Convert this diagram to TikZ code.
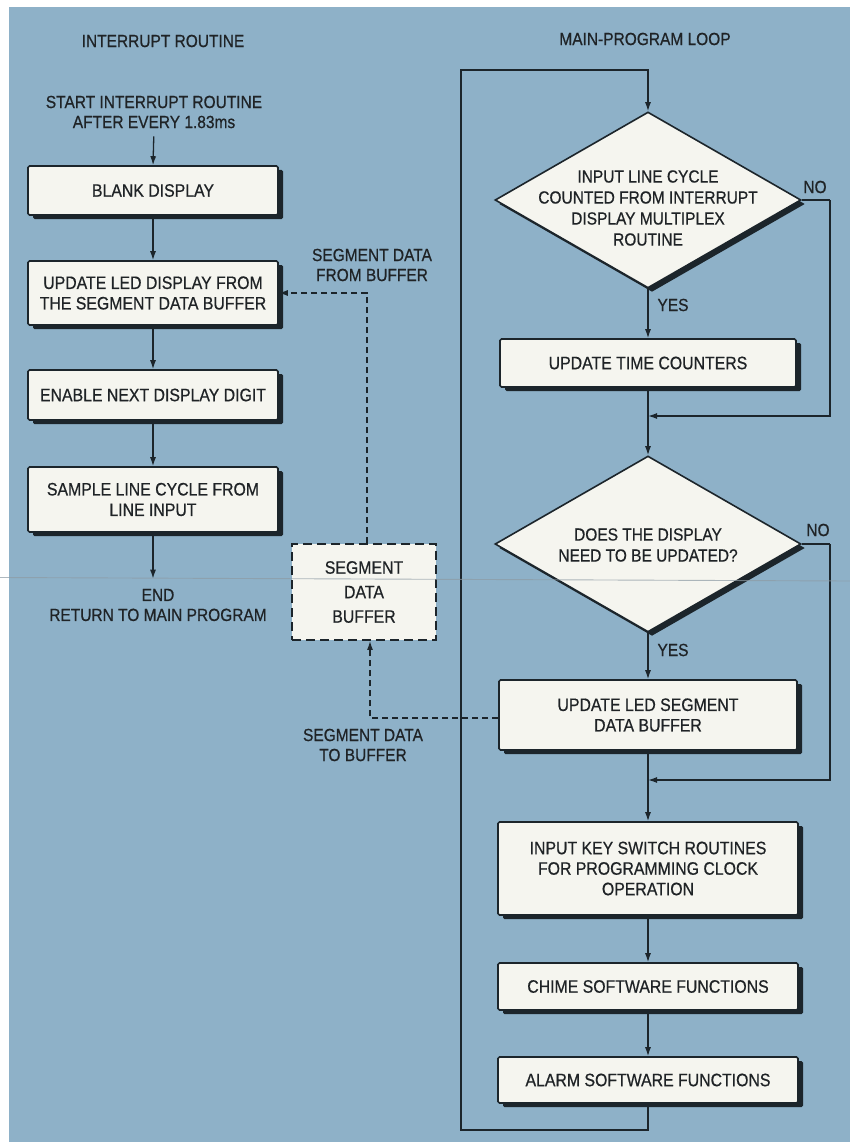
\documentclass[tikz,border=0pt]{standalone}
\usepackage{fontspec}
\setmainfont{Liberation Sans}[FakeStretch=0.88,FakeBold=0.6]
\usetikzlibrary{shapes.geometric,arrows.meta,shadows}
\definecolor{bg}{HTML}{8EB1C8}
\definecolor{ink}{HTML}{1C252B}
\definecolor{txt}{HTML}{1F2326}
\definecolor{paper}{HTML}{F5F5EF}
\definecolor{scan}{HTML}{8D9BA4}
\begin{document}
\begin{tikzpicture}[x=1pt,y=-1pt,
  boxtext/.style={font=\fontsize{18}{20.5}\selectfont, text=txt, align=center},
  procbox/.style={boxtext, rectangle, draw=ink, line width=1.6pt, fill=paper, rounded corners=1.5pt, inner sep=0pt,
    general shadow={fill=ink, shadow xshift=5pt, shadow yshift=-4pt}},
  decision/.style={diamond, draw=ink, line width=1.6pt, fill=paper, inner sep=0pt,
    minimum width=306pt, minimum height=176pt,
    general shadow={fill=ink, shadow xshift=4pt, shadow yshift=-4pt}},
  dtext/.style={font=\fontsize{17.6}{21}\selectfont, text=txt, align=center, inner sep=0pt},
  lbl/.style={font=\fontsize{17.6}{20}\selectfont, text=txt, align=center, inner sep=0pt},
  conn/.style={draw=ink, line width=1.3pt},
  arr/.style={conn, -{Latex[length=9pt,width=6pt]}},
  dasharr/.style={draw=ink, line width=1.3pt, dash pattern=on 6pt off 4pt, -{Latex[length=9pt,width=6pt]}},
  bufbox/.style={rectangle, draw=ink, line width=1.8pt, dash pattern=on 9pt off 5pt, fill=paper,
    minimum width=144pt, minimum height=96pt, inner sep=0pt, align=center,
    font=\fontsize{18}{24.5}\selectfont, text=txt},
]
% page and background
\useasboundingbox (0,0) rectangle (850,1142);
\fill[white] (0,0) rectangle (850,1142);
\fill[bg] (9,7) rectangle (850,1142);

% titles
\node[lbl] (ttlL) at (163,41) {INTERRUPT ROUTINE};
\node[lbl] (ttlR) at (645,39) {MAIN-PROGRAM LOOP};

% interrupt routine column
\node[lbl] (start) at (154,112) {START INTERRUPT ROUTINE\\AFTER EVERY 1.83ms};
\node[procbox, minimum width=250pt, minimum height=49pt] (blank) at (153,190.5) {BLANK DISPLAY};
\node[procbox, minimum width=250pt, minimum height=64pt] (updled) at (153,293) {UPDATE LED DISPLAY FROM\\THE SEGMENT DATA BUFFER};
\node[procbox, minimum width=250pt, minimum height=50pt] (enable) at (153,395) {ENABLE NEXT DISPLAY DIGIT};
\node[procbox, minimum width=250pt, minimum height=65pt] (sample) at (153,499.5) {SAMPLE LINE CYCLE FROM\\LINE INPUT};
\node[lbl] (end) at (158,605) {END\\RETURN TO MAIN PROGRAM};

\draw[arr, shorten <=8pt] (start.south) -- (blank.north);
\draw[arr] (blank.south) -- (updled.north);
\draw[arr] (updled.south) -- (enable.north);
\draw[arr] (enable.south) -- (sample.north);
\draw[arr, shorten >=10pt] (sample.south) -- (sample.south |- end.north);

% segment data buffer
\node[bufbox] (segbuf) at (364,592) {SEGMENT\\DATA\\BUFFER};
\node[lbl] (fromlbl) at (372,265) {SEGMENT DATA\\FROM BUFFER};
\node[lbl] (tolbl) at (363,745) {SEGMENT DATA\\TO BUFFER};

% main program loop column
\node[decision] (d1) at (648,200) {};
\node[dtext] (d1t) at (648,208) {INPUT LINE CYCLE\\COUNTED FROM INTERRUPT\\DISPLAY MULTIPLEX\\ROUTINE};
\node[procbox, minimum width=296pt, minimum height=48pt] (timecnt) at (648,363) {UPDATE TIME COUNTERS};
\node[decision] (d2) at (648,544) {};
\node[dtext] (d2t) at (648,545) {DOES THE DISPLAY\\NEED TO BE UPDATED?};
\node[procbox, minimum width=298pt, minimum height=70pt] (updseg) at (648,715) {UPDATE LED SEGMENT\\DATA BUFFER};
\node[procbox, minimum width=300pt, minimum height=93pt] (inputkey) at (648,868.5) {INPUT KEY SWITCH ROUTINES\\FOR PROGRAMMING CLOCK\\OPERATION};
\node[procbox, minimum width=300pt, minimum height=47pt] (chime) at (648,986.5) {CHIME SOFTWARE FUNCTIONS};
\node[procbox, minimum width=300pt, minimum height=46pt] (alarm) at (648,1080) {ALARM SOFTWARE FUNCTIONS};

\node[lbl] (no1) at (815,187) {NO};
\node[lbl] (yes1) at (673,305) {YES};
\node[lbl] (no2) at (818,530) {NO};
\node[lbl] (yes2) at (673,650) {YES};

\coordinate (j1) at (648,416);
\coordinate (j2) at (648,780);
\coordinate (nr1) at (830,200);
\coordinate (nr2) at (830,544);
\coordinate (lb) at (461,1130);
\coordinate (lt) at (461,70);

% loop back
\draw[arr] (alarm.south) |- (lb) -- (lt) -| (d1.north);
\draw[arr] (d1.south) -- (timecnt.north);
\draw[conn] (d1.east) -- (nr1);
\draw[arr] (nr1) |- (j1);
\draw[arr] (timecnt.south) -- (d2.north);
\draw[arr] (d2.south) -- (updseg.north);
\draw[conn] (d2.east) -- (nr2);
\draw[arr] (nr2) |- (j2);
\draw[arr] (updseg.south) -- (inputkey.north);
\draw[arr] (inputkey.south) -- (chime.north);
\draw[arr] (chime.south) -- (alarm.north);

% dashed data paths
\draw[dasharr] ([xshift=3pt]segbuf.north) |- (updled.east);
\draw[dasharr] ([yshift=-3pt]updseg.west) -| ([xshift=6pt]segbuf.south);

% faint scan line across the page
\draw[scan, line width=0.9pt, opacity=0.7] (0,577.5) -- (850,581);
\end{tikzpicture}
\end{document}
